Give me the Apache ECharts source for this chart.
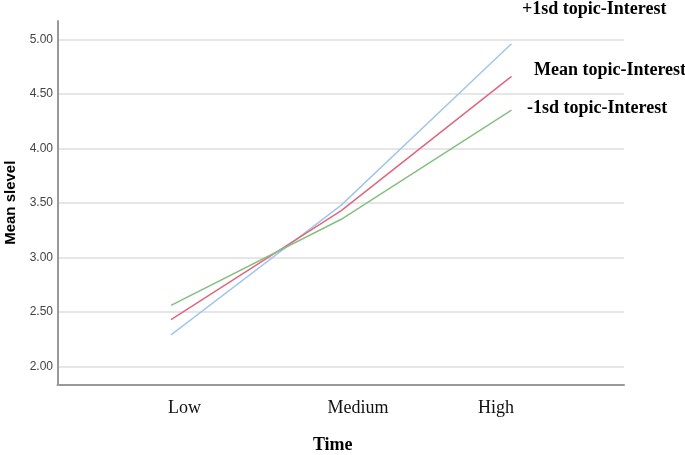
<!DOCTYPE html>
<html>
<head>
<meta charset="utf-8">
<script src="https://cdn.jsdelivr.net/npm/echarts@6/dist/echarts.min.js"></script>
<style>
  html, body { margin: 0; padding: 0; background: #fff; }
  #chart { width: 685px; height: 455px; }
</style>
</head>
<body>
<div id="chart"></div>
<script>
// Data
const categories = ['Low', 'Medium', 'High'];
const seriesNames = ['+1sd topic-Interest', 'Mean topic-Interest', '-1sd topic-Interest'];
const plus1sd = [2.29, 3.48, 4.96];
const meanVals = [2.43, 3.43, 4.66];
const minus1sd = [2.56, 3.35, 4.35];
const yTicks = [2.0, 2.5, 3.0, 3.5, 4.0, 4.5, 5.0];

const chart = echarts.init(document.getElementById('chart'));

// category labels are drawn slightly shifted from the points in the reference
const labelPos = [0.079, 1.098, 1.909];

function mk(vals) { return vals.map((v, i) => [i, v]); }

const serif = '"Liberation Serif", "Times New Roman", serif';
const sans = '"Liberation Sans", Arial, sans-serif';

function lineSeries(name, vals, color, offset) {
  return {
    name: name,
    type: 'line',
    data: mk(vals),
    symbol: 'none',
    lineStyle: { color: color, width: 1.5 },
    itemStyle: { color: color },
    z: 3,
    endLabel: {
      show: true,
      formatter: name,
      distance: 0,
      offset: offset,
      fontFamily: serif,
      fontWeight: 'bold',
      fontSize: 18,
      color: '#000',
      align: 'left',
      verticalAlign: 'middle'
    },
    emphasis: { disabled: true }
  };
}

chart.setOption({
  animation: false,
  backgroundColor: '#fff',
  grid: { left: 57.5, right: 61, top: 21, bottom: 70.5, containLabel: false, outerBoundsMode: 'none' },
  xAxis: {
    type: 'value',
    min: -0.667,
    max: 2.661,
    axisLine: { show: true, onZero: false, lineStyle: { color: '#999', width: 2 } },
    axisTick: { show: false },
    splitLine: { show: false },
    axisLabel: {
      customValues: labelPos,
      formatter: function (v) { return categories[Math.round(v)]; },
      margin: 15,
      fontFamily: serif,
      fontSize: 18,
      color: '#111'
    },
    name: 'Time',
    nameLocation: 'middle',
    nameGap: 52,
    nameTextStyle: {
      fontFamily: serif,
      fontWeight: 'bold',
      fontSize: 18,
      color: '#000',
      padding: [0, 16, 0, 0]
    }
  },
  yAxis: {
    type: 'value',
    min: 1.835,
    max: 5.168,
    axisLine: { show: true, onZero: false, lineStyle: { color: '#999', width: 2 } },
    axisTick: { show: false, customValues: yTicks },
    splitLine: { show: true, lineStyle: { color: '#dedede', width: 1.5 } },
    axisLabel: {
      customValues: yTicks,
      formatter: function (v) { return v.toFixed(2); },
      margin: 4.5,
      fontFamily: sans,
      fontSize: 12,
      color: '#444'
    },
    name: 'Mean slevel',
    nameLocation: 'middle',
    nameGap: 38,
    nameTextStyle: {
      fontFamily: sans,
      fontWeight: 'bold',
      fontSize: 15,
      color: '#000'
    }
  },
  series: [
    lineSeries(seriesNames[0], plus1sd, '#a3c6ee', [10.5, -34.5]),
    lineSeries(seriesNames[1], meanVals, '#e0667e', [22.5, -6]),
    lineSeries(seriesNames[2], minus1sd, '#86bf80', [15.5, -2])
  ]
});
</script>
</body>
</html>
